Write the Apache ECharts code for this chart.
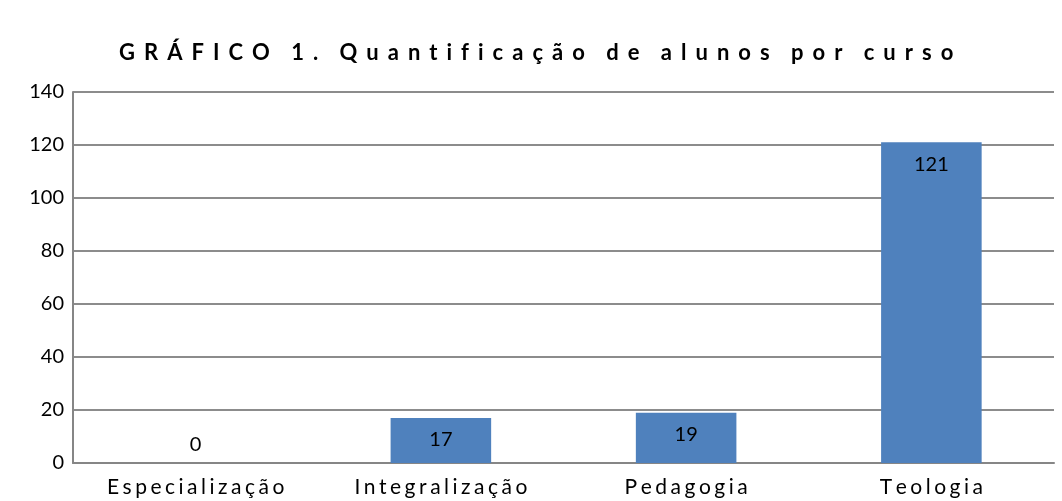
<!DOCTYPE html>
<html lang="pt">
<head>
    <meta charset="UTF-8"/>
    <title>Quantificação de alunos por curso</title>
    <script src="https://cdn.jsdelivr.net/npm/echarts@6/dist/echarts.min.js"></script>
    <style>
        html, body { margin: 0; padding: 0; background: #fff; }
    </style>
</head>
<body>
<div id="main" style="width: 1062px;height:501px;"></div>
<script type="text/javascript">
    // dados do gráfico
    var cursos = ['Especialização', 'Integralização', 'Pedagogia', 'Teologia'];
    var alunos = [0, 17, 19, 121];
    var titulo = 'GRÁFICO 1. Quantificação de alunos por curso';

    // espaçamento entre letras (o canvas não tem letter-spacing)
    function espacar(txt, sep, sepPalavra) {
        return txt.split(' ').map(function (p) {
            return p.split('').join(sep);
        }).join(sepPalavra);
    }

    var myChart = echarts.init(document.getElementById('main'));

    var option = {
        animation: false,
        title: {
            text: espacar(titulo, ' \u2006', '    '),
            left: 114,
            top: 37,
            textStyle: {
                fontFamily: 'Lato',
                fontSize: 22,
                fontWeight: 'bold',
                color: '#000'
            }
        },
        grid: {
            left: 73,
            right: 8,
            top: 92,
            bottom: 38,
            containLabel: false
        },
        xAxis: {
            type: 'category',
            data: cursos,
            axisTick: { show: false },
            axisLine: { lineStyle: { color: '#868686', width: 2 } },
            axisLabel: {
                margin: 14,
                fontFamily: 'Lato',
                fontSize: 21,
                color: '#000',
                formatter: function (v) { return espacar(v, '\u2006', ' '); }
            }
        },
        yAxis: {
            type: 'value',
            min: 0,
            max: 140,
            interval: 20,
            axisLine: { show: true, lineStyle: { color: '#868686', width: 2 } },
            axisTick: { show: false },
            splitLine: { lineStyle: { color: '#8c8c8c', width: 2 } },
            axisLabel: {
                margin: 9,
                fontFamily: 'Lato',
                fontSize: 20,
                color: '#000'
            }
        },
        series: [
            {
                type: 'bar',
                barWidth: '41%',
                itemStyle: { color: '#4F81BD' },
                label: {
                    show: true,
                    position: 'insideTop',
                    distance: 12,
                    fontFamily: 'Lato',
                    fontSize: 20,
                    color: '#000'
                },
                data: alunos.map(function (v) {
                    if (v === 0) {
                        return { value: v, label: { position: 'top', distance: 8 } };
                    }
                    return v;
                })
            }
        ]
    };

    myChart.setOption(option);
</script>
</body>
</html>
